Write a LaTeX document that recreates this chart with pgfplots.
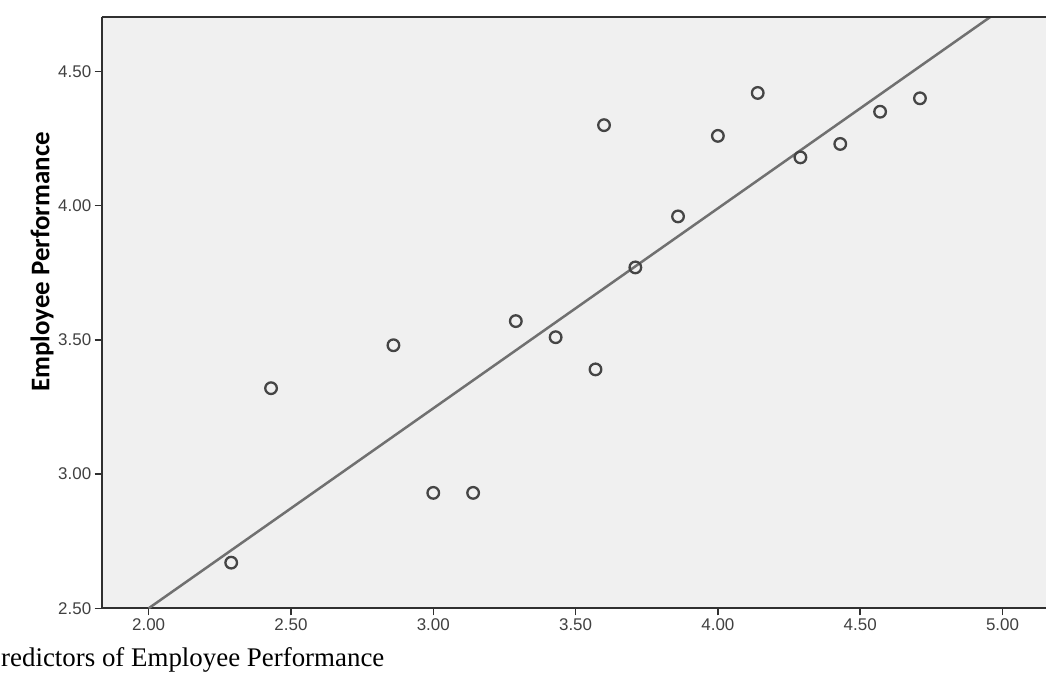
\documentclass[border=0pt]{standalone}
\usepackage{pgfplots}
\pgfplotsset{compat=1.18}
\usepackage{fontspec}
\setmainfont{Liberation Serif}
\newfontfamily\arialf{Liberation Sans}
\newfontfamily\calibrif{Carlito}
\definecolor{bgc}{HTML}{F0F0F0}
\definecolor{axc}{HTML}{303030}
\definecolor{linec}{HTML}{707070}
\definecolor{markc}{HTML}{454545}
\pgfplotstableread{
x y
2.29 2.67
2.43 3.32
2.86 3.48
3.00 2.93
3.14 2.93
3.29 3.57
3.43 3.51
3.57 3.39
3.60 4.30
3.71 3.77
3.86 3.96
4.00 4.26
4.14 4.42
4.29 4.18
4.43 4.23
4.57 4.35
4.71 4.40
}\pts
\begin{document}
\begin{tikzpicture}[x=1bp,y=1bp]
\path[use as bounding box] (0,0) rectangle (1046,686);
\begin{axis}[
  at={(101.7bp,77.7bp)}, anchor=south west,
  scale only axis, width=948.3bp, height=591.3bp,
  xmin=1.835, xmax=5.167, ymin=2.5, ymax=4.703,
  axis background/.style={fill=bgc},
  axis lines*=left,
  axis line style={line width=1.8bp, axc},
  tick align=outside,
  major tick length=7bp,
  tick style={line width=1.5bp, axc},
  xtick={2,2.5,3,3.5,4,4.5,5},
  ytick={2.5,3,3.5,4,4.5},
  /pgf/number format/fixed, /pgf/number format/fixed zerofill,
  /pgf/number format/precision=2,
  /pgf/number format/assume math mode=true,
  ticklabel style={font=\arialf\fontsize{17}{20}\selectfont, text=black!75},
  ylabel={Employee Performance},
  every axis y label/.style={at={(axis description cs:-0.063,0.586)}, rotate=90, anchor=center,
    font=\calibrif\bfseries\fontsize{27}{30}\selectfont},
  clip=true,
]
\addplot[line width=2.5bp, linec] coordinates {(2.0,2.5) (5.0,4.735)};
\addplot[only marks, mark=o, mark size=5.8bp, mark options={line width=2.3bp, markc}] table[x=x,y=y] {\pts};
\draw[line width=1.8bp, axc] (rel axis cs:0,1) -- (rel axis cs:1,1);
\end{axis}
\node[anchor=base west, font=\fontsize{27}{30}\selectfont, inner sep=0pt] at (1,19) {redictors of Employee Performance};
\end{tikzpicture}
\end{document}
